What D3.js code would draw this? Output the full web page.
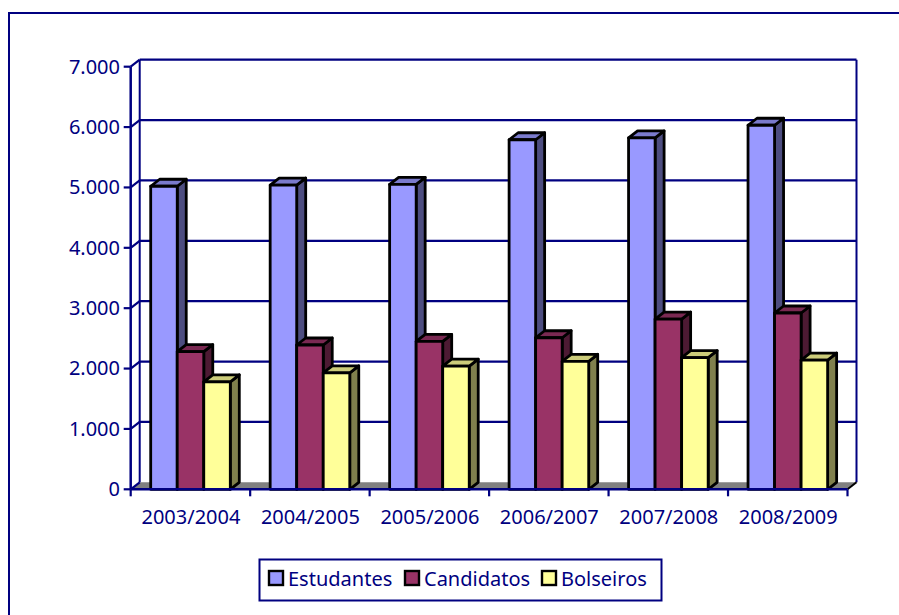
<!DOCTYPE html>
<html lang="pt">
<head>
<meta charset="UTF-8">
<title>Estudantes, Candidatos, Bolseiros</title>
<script src="https://d3js.org/d3.v7.min.js"></script>
<style>
  html, body { margin: 0; padding: 0; background: #fff; }
  svg { display: block; }
  text { font-family: "Noto Sans", sans-serif; fill: #000080; }
</style>
</head>
<body>
<div id="chart"></div>
<script>
const categories = ["2003/2004", "2004/2005", "2005/2006", "2006/2007", "2007/2008", "2008/2009"];
const seriesNames = ["Estudantes", "Candidatos", "Bolseiros"];
const estudantes = [5020, 5040, 5050, 5790, 5820, 6030];
const candidatos = [2280, 2390, 2450, 2510, 2820, 2920];
const bolseiros = [1780, 1930, 2040, 2120, 2180, 2140];
const yTicks = [0, 1000, 2000, 3000, 4000, 5000, 6000, 7000];

// front, side and top colours of each series
const colors = [
  { front: "#9999ff", side: "#4d4d80", top: "#7a7acc" },
  { front: "#993366", side: "#4d1a33", top: "#7a2952" },
  { front: "#ffff99", side: "#80804d", top: "#cccc7a" }
];

const navy = "#000080";
const width = 899, height = 615;
const dx = 9, dy = -7; // depth of the 3d effect

const svg = d3.select("#chart").append("svg")
  .attr("width", width)
  .attr("height", height);

// frame: only the top and left edges show
svg.append("path")
  .attr("d", "M9,615V13H899")
  .attr("fill", "none").attr("stroke", navy).attr("stroke-width", 2);

const x = d3.scaleBand().domain(categories).range([130.7, 847.5]);
const y = d3.scaleLinear().domain([0, 7000]).range([489.3, 66.7]);
const xSeries = d3.scaleBand().domain(seriesNames).range([20, 99.6]);

const fmt = v => d3.format(",")(v).replace(/,/g, ".");

// floor
svg.append("path")
  .attr("d", d3.line()([[x.range()[0], y(0)], [x.range()[0] + dx, y(0) + dy], [x.range()[1] + dx, y(0) + dy], [x.range()[1], y(0)]]) + "Z")
  .attr("fill", "#808080");

// back wall gridlines
svg.append("g").selectAll("line")
  .data(yTicks.slice(1))
  .join("line")
  .attr("x1", x.range()[0] + dx).attr("x2", x.range()[1] + dx)
  .attr("y1", d => y(d) + dy).attr("y2", d => y(d) + dy)
  .attr("stroke", navy).attr("stroke-width", 2.2);

// walls
svg.append("path")
  .attr("d", `M${x.range()[0] + dx},${y(0) + dy}V${y(7000) + dy}M${x.range()[1] + dx},${y(7000) + dy}V${y(0) + dy}`)
  .attr("fill", "none").attr("stroke", navy).attr("stroke-width", 2);

// side wall diagonals
svg.append("g").selectAll("line")
  .data(yTicks)
  .join("line")
  .attr("x1", x.range()[0]).attr("x2", x.range()[0] + dx)
  .attr("y1", d => y(d)).attr("y2", d => y(d) + dy)
  .attr("stroke", navy).attr("stroke-width", 2.2);
svg.append("line")
  .attr("x1", x.range()[1]).attr("x2", x.range()[1] + dx)
  .attr("y1", y(0)).attr("y2", y(0) + dy)
  .attr("stroke", "#000").attr("stroke-width", 2);

// front y axis
svg.append("line")
  .attr("x1", x.range()[0]).attr("x2", x.range()[0])
  .attr("y1", y(7000)).attr("y2", y(0))
  .attr("stroke", navy).attr("stroke-width", 2.5);

// y ticks
svg.append("g").selectAll("line")
  .data(yTicks)
  .join("line")
  .attr("x1", x.range()[0] - 7).attr("x2", x.range()[0])
  .attr("y1", d => y(d)).attr("y2", d => y(d))
  .attr("stroke", navy).attr("stroke-width", 2.2);
svg.append("g").selectAll("text")
  .data(yTicks)
  .join("text")
  .attr("x", 120).attr("y", d => y(d) + 6.8)
  .attr("text-anchor", "end")
  .attr("font-size", 20)
  .text(fmt);

// bars
const allSeries = [estudantes, candidatos, bolseiros];
const bars = [];
categories.forEach((c, i) => allSeries.forEach((s, j) => bars.push({ c, j, name: seriesNames[j], v: s[i] })));

const bar = svg.append("g").selectAll("g")
  .data(bars)
  .join("g")
  .attr("stroke", "#000").attr("stroke-width", 2.8).attr("stroke-linejoin", "round");

bar.append("path") // side
  .attr("fill", d => colors[d.j].side)
  .attr("d", d => {
    const r = x(d.c) + xSeries(d.name) + xSeries.bandwidth();
    return `M${r},${y(d.v)}l${dx},${dy}V${y(0) + dy}l${-dx},${-dy}Z`;
  });
bar.append("path") // top
  .attr("fill", d => colors[d.j].top)
  .attr("d", d => {
    const l = x(d.c) + xSeries(d.name);
    return `M${l},${y(d.v)}l${dx},${dy}h${xSeries.bandwidth()}l${-dx},${-dy}Z`;
  });
bar.append("rect") // front
  .attr("fill", d => colors[d.j].front)
  .attr("x", d => x(d.c) + xSeries(d.name))
  .attr("y", d => y(d.v))
  .attr("width", xSeries.bandwidth())
  .attr("height", d => y(0) - y(d.v));

// x axis goes over the bar feet
svg.append("line")
  .attr("x1", x.range()[0]).attr("x2", x.range()[1])
  .attr("y1", y(0)).attr("y2", y(0))
  .attr("stroke", navy).attr("stroke-width", 2.5);

// x ticks
svg.append("g").selectAll("line")
  .data(categories.map(c => x(c)).concat(x.range()[1]))
  .join("line")
  .attr("x1", d => d).attr("x2", d => d)
  .attr("y1", y(0)).attr("y2", y(0) + 7)
  .attr("stroke", navy).attr("stroke-width", 2.2);
svg.append("g").selectAll("text")
  .data(categories)
  .join("text")
  .attr("x", d => x(d) + x.bandwidth() / 2 + 0.5).attr("y", 524)
  .attr("text-anchor", "middle")
  .attr("font-size", 20)
  .text(d => d);

// legend
svg.append("rect")
  .attr("x", 259.5).attr("y", 559.5).attr("width", 402).attr("height", 41)
  .attr("fill", "#fff").attr("stroke", navy).attr("stroke-width", 2);

const legendX = [268, 404, 541];
const legend = svg.append("g").selectAll("g")
  .data(seriesNames)
  .join("g")
  .attr("transform", (d, i) => `translate(${legendX[i]},570)`);
legend.append("rect")
  .attr("x", 1).attr("y", 1).attr("width", 14).attr("height", 14)
  .attr("fill", (d, i) => colors[i].front)
  .attr("stroke", "#000").attr("stroke-width", 2.4);
legend.append("text")
  .attr("x", 20).attr("y", 15.5)
  .attr("font-size", 20)
  .text(d => d);
</script>
</body>
</html>
